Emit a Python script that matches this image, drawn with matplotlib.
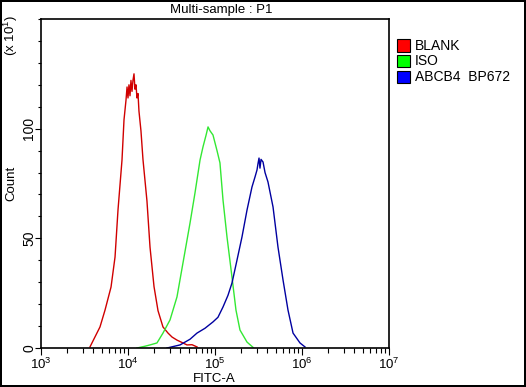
import matplotlib
matplotlib.use("Agg")
import matplotlib.pyplot as plt
import numpy as np
from matplotlib.patches import Rectangle
from matplotlib.ticker import FixedLocator, NullFormatter

plt.rcParams.update({
    "font.family": ["Liberation Sans", "DejaVu Sans"],
    "mathtext.fontset": "custom",
    "mathtext.rm": "Liberation Sans",
})

# histogram traces, x as log10(FITC-A), y in units of 10 counts
blank_log = [3.563, 3.678, 3.736, 3.805, 3.851, 3.885, 3.931, 3.954, 3.977, 3.989,
             4.000, 4.011, 4.023, 4.034, 4.046, 4.057, 4.069, 4.080, 4.092, 4.103,
             4.115, 4.126, 4.149, 4.172, 4.218, 4.253, 4.299, 4.345, 4.402, 4.460,
             4.506, 4.563, 4.621, 4.678, 4.736, 4.793]
blank_cnt = [0.5, 9.6, 17.3, 27.8, 41.5, 62.9, 85.7, 104, 113, 119,
             114, 120, 115, 122, 117, 122, 125, 118, 120, 114,
             116, 108, 99, 86, 67, 46, 28, 17, 9.6, 6.8,
             5, 3.6, 2.5, 1.4, 1.5, 0.5]

iso_log = [4.103, 4.195, 4.253, 4.333, 4.402, 4.483, 4.563, 4.632, 4.713, 4.770,
           4.828, 4.862, 4.897, 4.920, 4.943, 4.977, 5.023, 5.057, 5.092, 5.138,
           5.195, 5.241, 5.287, 5.368, 5.437]
iso_cnt = [0, 0.8, 1.4, 2.3, 6.8, 12.8, 23.3, 38.8, 57, 70.7,
           85.7, 91.7, 97, 100.8, 99, 97.1, 90, 84.4, 67.5, 50.6,
           32.4, 17.3, 8.2, 2.7, 0.3]

abcb4_log = [4.448, 4.598, 4.713, 4.793, 4.885, 4.977, 5.034, 5.092, 5.149, 5.195,
             5.253, 5.310, 5.368, 5.425, 5.460, 5.483, 5.494, 5.506, 5.517, 5.529,
             5.552, 5.575, 5.609, 5.667, 5.724, 5.782, 5.839, 5.897, 5.977, 6.034]
abcb4_cnt = [0, 1.4, 4, 6.8, 9, 11.9, 14, 18.7, 24, 29.6,
             40.1, 50.6, 62.9, 73.4, 78, 81.2, 84, 86.6, 82, 86,
             84.8, 80, 75.7, 64.3, 46, 31, 17.3, 6.8, 2.3, 0.5]

labels = ["BLANK", "ISO", "ABCB4  BP672"]
line_colors = ["#D00000", "#33E833", "#0000A0"]
box_colors = ["#FF0000", "#00FF00", "#0000FF"]

W, H = 526, 387
fig = plt.figure(figsize=(W / 100, H / 100), dpi=100, linewidth=1.5, edgecolor="black")
ax = fig.add_axes([41 / W, 1 - 348 / H, 348 / W, 329 / H])

series = [(blank_log, blank_cnt), (iso_log, iso_cnt), (abcb4_log, abcb4_cnt)]
for (lx, cnt), col in zip(series, line_colors):
    ax.plot(10 ** np.array(lx), cnt, color=col, linewidth=1.0)

ax.set_xscale("log")
ax.set_xlim(1e3, 1e7)
ax.set_ylim(0, 150)

decades = [3, 4, 5, 6, 7]
ax.set_xticks([10.0 ** d for d in decades])
ax.set_xticklabels([r"$\mathregular{10^{%d}}$" % d for d in decades])
minor = [m * 10.0 ** d for d in decades[:-1] for m in range(2, 10)]
ax.xaxis.set_minor_locator(FixedLocator(minor))
ax.xaxis.set_minor_formatter(NullFormatter())

ax.set_yticks([0, 50, 100])
ax.yaxis.set_minor_locator(FixedLocator(np.arange(0, 151, 10)))
# tick lengths in points (dpi 100 -> 1 pt = 1.39 px)
ax.tick_params(axis="x", which="major", direction="out", length=5, width=0.8,
               labelsize=9.5, color="black", pad=1)
ax.tick_params(axis="x", which="minor", direction="out", length=3.5, width=0.8, color="black")
ax.tick_params(axis="y", which="major", direction="out", length=4.3, width=0.8,
               labelsize=10, color="black", pad=-1)
ax.tick_params(axis="y", which="minor", direction="out", length=2.2, width=0.8, color="black")
for lab in ax.get_yticklabels():
    lab.set_rotation(90)
    lab.set_rotation_mode("anchor")
    lab.set_ha("center")
    lab.set_va("bottom")

for sp in ax.spines.values():
    sp.set_linewidth(1.2)
    sp.set_color("black")

fig.text(214 / W, 1 - 379 / H, "FITC-A", ha="center", va="center", fontsize=9.5)
fig.text(11 / W, 1 - 183 / H, "Count", rotation=90, ha="center", va="center", fontsize=9.5)
fig.text(11 / W, 1 - 36 / H, r"(x $\mathregular{10^{1}}$)", rotation=90,
         ha="center", va="center", fontsize=9.5)
fig.text(221 / W, 1 - 10 / H, "Multi-sample : P1", ha="center", va="center", fontsize=9.5)

# legend boxes drawn in figure pixels
for i, (lab, bc) in enumerate(zip(labels, box_colors)):
    yc = 45.5 + 15.6 * i
    fig.patches.append(Rectangle((397 / W, 1 - (yc + 6) / H), 13 / W, 12 / H,
                                 transform=fig.transFigure, facecolor=bc,
                                 edgecolor="black", linewidth=0.8))
    fig.text(415 / W, 1 - yc / H, lab, ha="left", va="center", fontsize=10)

fig.savefig("out.png", dpi=100, facecolor="white", edgecolor="black")
